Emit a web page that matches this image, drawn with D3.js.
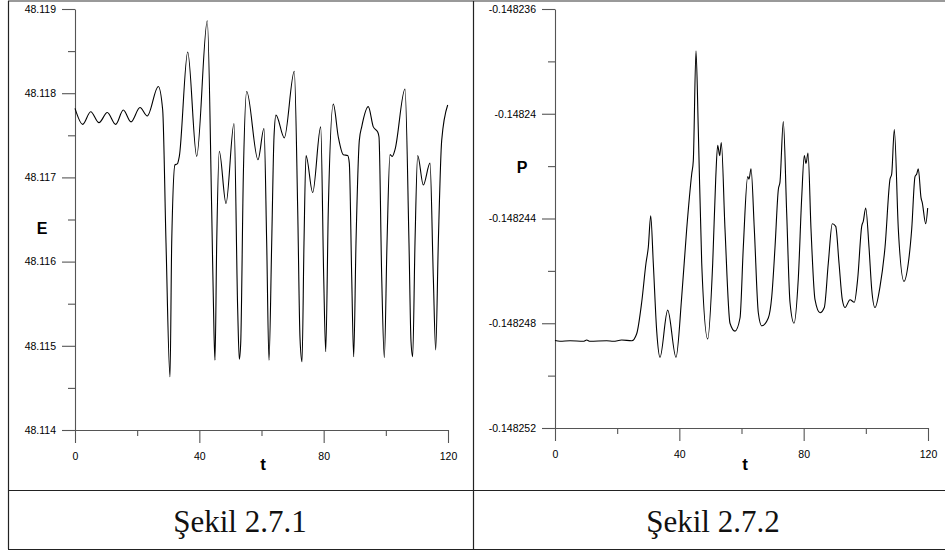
<!DOCTYPE html>
<html>
<head>
<meta charset="utf-8">
<script src="https://cdn.jsdelivr.net/npm/d3@7"></script>
<style>
  body { margin: 0; background: #fff; }
  svg { display: block; }
  .tick text { font-family: "Liberation Sans", Arial, sans-serif; font-size: 10.5px; fill: #000; }
  .lbl { font-family: "Liberation Sans", Arial, sans-serif; font-weight: bold; fill: #000; }
  .cap { font-family: "Liberation Serif", "Times New Roman", serif; font-size: 31px; fill: #111; }
</style>
</head>
<body>
<div id="draw"></div>
<script>
// sekil 2.7.1 : E(t)
var tE = [0, 2.48, 5.05, 7.72, 10.39, 13.09, 15.54, 18.02, 20.91, 23.26, 26.8, 28.21, 29.28, 30.56, 31.11, 32.17, 32.91, 33.56, 36.26, 39.15,
  42.56, 43.98, 44.72, 45.04, 45.59, 46.42, 48.58, 51.15, 52.34, 52.86, 53.31, 54.15, 55.24, 58.87, 60.8, 61.67, 62.41, 63.28, 64.02, 64.67,
  67.34, 70.55, 71.65, 72.39, 73.03, 73.67, 74.32, 76.47, 79.05, 80.01, 80.66, 81.49, 83.1, 84.71, 86.32, 87.73, 88.25, 89.02, 89.66, 90.4,
  91.47, 92.24, 94.36, 95.97, 97.38, 97.8, 98.67, 99.51, 100.38, 101.34, 102.08, 102.95, 106.17, 107.45, 108.1, 108.64, 109.38, 110.25, 112.06, 114.21,
  115.27, 116.04, 116.88, 117.97, 119.9];
var E = [48.11782, 48.11763, 48.11778, 48.11765, 48.11777, 48.11763, 48.1178, 48.11766, 48.11783, 48.11773, 48.11808, 48.1178, 48.11622, 48.11463, 48.11622, 48.11715, 48.11716, 48.11725, 48.11849, 48.11725,
  48.11886, 48.11661, 48.11515, 48.11483, 48.11622, 48.11731, 48.11669, 48.11764, 48.11543, 48.11484, 48.11503, 48.11701, 48.11802, 48.11721, 48.11758, 48.11622, 48.11483, 48.11622, 48.11748, 48.11774,
  48.11747, 48.11826, 48.11661, 48.11509, 48.11481, 48.11622, 48.11726, 48.11682, 48.1176, 48.11582, 48.11493, 48.11661, 48.11787, 48.11748, 48.11727, 48.11726, 48.11717, 48.11582, 48.11487, 48.11622,
  48.11744, 48.1176, 48.11784, 48.1176, 48.11754, 48.11748, 48.11582, 48.11486, 48.11622, 48.11727, 48.11725, 48.11733, 48.11805, 48.11622, 48.11505, 48.11487, 48.11622, 48.11726, 48.11691, 48.11717,
  48.11582, 48.11495, 48.11622, 48.11744, 48.11786];

// sekil 2.7.2 : P(t)
var tP = [0, 1.61, 4.83, 9.1, 10.2, 11.26, 16.63, 18.76, 21.46, 24.68, 26.28, 27.89, 29.28, 30.02, 30.79, 31.62, 32.72, 33.78, 36.26, 38.93,
  40.76, 42.37, 43.98, 44.49, 45.36, 46.1, 47.2, 49.13, 50.74, 51.7, 52.34, 52.99, 53.5, 54.69, 56.3, 57.91, 59.52, 60.58, 62.0, 62.41,
  63.06, 64.12, 65.41, 66.5, 68.62, 69.72, 70.78, 71.84, 72.39, 73.45, 74.54, 75.6, 76.89, 78.27, 79.37, 80.2, 80.75, 81.4, 82.36, 83.65,
  85.26, 86.64, 87.93, 89.21, 90.31, 91.37, 92.43, 93.3, 94.91, 96.29, 97.38, 98.67, 99.19, 99.96, 101.02, 101.89, 102.95, 104.56, 106.17, 107.78,
  108.32, 109.16, 110.45, 112.28, 113.67, 114.76, 115.82, 116.37, 116.88, 117.75, 118.17, 119.26, 119.9];
var P = [-0.14824866, -0.14824869, -0.14824867, -0.14824869, -0.14824864, -0.14824869, -0.14824867, -0.14824869, -0.14824864, -0.14824867, -0.1482484, -0.1482472, -0.1482457, -0.1482451, -0.1482439, -0.1482457, -0.1482483, -0.1482493, -0.1482475, -0.1482493,
  -0.148247, -0.1482444, -0.1482423, -0.1482418, -0.1482376, -0.1482406, -0.1482457, -0.1482486, -0.1482457, -0.1482425, -0.1482412, -0.1482416, -0.1482411, -0.1482444, -0.148248, -0.1482483, -0.1482478, -0.1482451, -0.1482424, -0.1482425,
  -0.1482421, -0.1482444, -0.1482476, -0.1482481, -0.1482478, -0.148247, -0.1482451, -0.1482429, -0.1482426, -0.1482403, -0.1482438, -0.1482472, -0.148248, -0.1482463, -0.1482432, -0.1482416, -0.1482419, -0.1482415, -0.1482444, -0.1482471,
  -0.1482476, -0.1482474, -0.1482457, -0.1482442, -0.1482443, -0.1482457, -0.1482471, -0.1482474, -0.1482471, -0.1482472, -0.1482463, -0.1482443, -0.1482441, -0.1482436, -0.1482451, -0.1482467, -0.1482474, -0.1482466, -0.1482451, -0.1482425,
  -0.1482423, -0.1482406, -0.1482444, -0.1482464, -0.1482457, -0.1482444, -0.1482424, -0.1482423, -0.1482421, -0.1482432, -0.1482434, -0.1482442, -0.1482436];

// eksen ticks
var tTicks = [0, 40, 80, 120];
var tMinor = [20, 60, 100];
var eTicks = [48.114, 48.115, 48.116, 48.117, 48.118, 48.119];
var eMinor = [48.1145, 48.1155, 48.1165, 48.1175, 48.1185];
var pTicks = [-0.148252, -0.148248, -0.148244, -0.14824, -0.148236];
var pTickLabels = ['-0.148252', '-0.148248', '-0.148244', '-0.14824', '-0.148236'];
var pMinor = [-0.14825, -0.148246, -0.148242, -0.148238];

var svg = d3.select('#draw').append('svg').attr('width', 945).attr('height', 552);

// tablo cizgileri
var frame = svg.append('g').attr('stroke', '#222').attr('stroke-width', 1.2).attr('fill', 'none');
frame.append('line').attr('x1', 8).attr('y1', 1).attr('x2', 945).attr('y2', 1).attr('stroke', '#777').attr('stroke-width', 1.5);
frame.append('line').attr('x1', 8.5).attr('y1', 1).attr('x2', 8.5).attr('y2', 549);
frame.append('line').attr('x1', 473.5).attr('y1', 1).attr('x2', 473.5).attr('y2', 549);
frame.append('line').attr('x1', 8).attr('y1', 490.5).attr('x2', 945).attr('y2', 490.5);
frame.append('line').attr('x1', 8).attr('y1', 549.5).attr('x2', 945).attr('y2', 549.5);

function panel(ox, yTop, yBot, domainY, majorY, minorY, labelsY, tx, ty, name, nx, ny, tlx) {
  var x = d3.scaleLinear().domain([0, 120]).range([ox, ox + 373]);
  var y = d3.scaleLinear().domain(domainY).range([yBot, yTop]);

  var g = svg.append('g');

  // minor ticks
  g.append('g').attr('transform', 'translate(' + ox + ',0)')
    .call(d3.axisLeft(y).tickValues(minorY).tickSize(7).tickSizeOuter(0).tickFormat(''))
    .call(function(s){ s.select('.domain').remove(); });
  g.append('g').attr('transform', 'translate(0,' + yBot + ')')
    .call(d3.axisBottom(x).tickValues(tMinor).tickSize(6).tickSizeOuter(0).tickFormat(''))
    .call(function(s){ s.select('.domain').remove(); });

  // major ticks
  g.append('g').attr('transform', 'translate(' + ox + ',0)')
    .call(d3.axisLeft(y).tickValues(majorY).tickSize(13).tickSizeOuter(0).tickPadding(6)
      .tickFormat(function(d, i){ return labelsY[i]; }));
  g.append('g').attr('transform', 'translate(0,' + yBot + ')')
    .call(d3.axisBottom(x).tickValues(tTicks).tickSize(13).tickSizeOuter(0).tickPadding(9.5));

  g.selectAll('.domain, .tick line').attr('stroke', '#555').attr('stroke-width', 1.1);

  var line = d3.line()
    .x(function(d, i){ return x(tx[i]); })
    .y(function(d){ return y(d); })
    .curve(d3.curveMonotoneX);
  g.append('path').datum(ty).attr('d', line)
    .attr('fill', 'none').attr('stroke', '#000').attr('stroke-width', 1.1);

  g.append('text').attr('class', 'lbl').attr('x', nx).attr('y', ny)
    .attr('text-anchor', 'middle').style('font-size', '16px').text(name);
  g.append('text').attr('class', 'lbl').attr('x', tlx).attr('y', 470)
    .attr('text-anchor', 'middle').style('font-size', '17px').text('t');
}

panel(75, 9, 430, [48.114, 48.119], eTicks, eMinor, eTicks.map(String), tE, E, 'E', 42, 234, 263);
panel(555, 9, 428, [-0.148252, -0.148236], pTicks, pMinor, pTickLabels, tP, P, 'P', 522, 173, 745);

svg.append('text').attr('class', 'cap').attr('x', 240).attr('y', 532).attr('text-anchor', 'middle').text('Şekil 2.7.1');
svg.append('text').attr('class', 'cap').attr('x', 713).attr('y', 532).attr('text-anchor', 'middle').text('Şekil 2.7.2');
</script>
</body>
</html>
